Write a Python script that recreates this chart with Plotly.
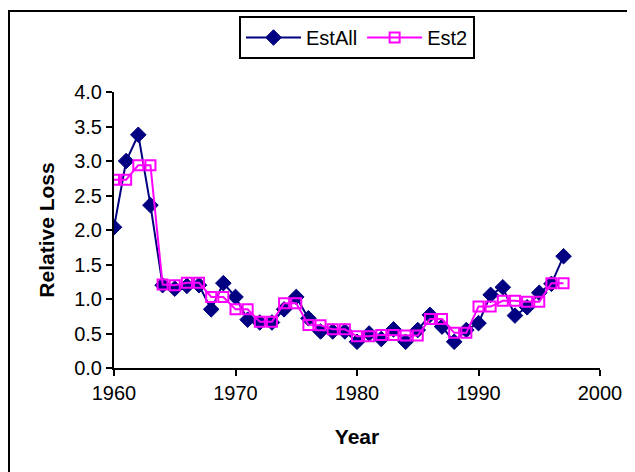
import plotly.graph_objects as go

years = list(range(1960, 1998))
est_all = [2.04, 3.0, 3.38, 2.36, 1.20, 1.15, 1.19, 1.20, 0.85, 1.23,
           1.03, 0.70, 0.66, 0.66, 0.85, 1.03, 0.72, 0.53, 0.53, 0.53,
           0.38, 0.50, 0.42, 0.56, 0.38, 0.55, 0.77, 0.60, 0.38, 0.55,
           0.65, 1.06, 1.17, 0.76, 0.88, 1.09, 1.22, 1.62]
est2 = [2.73, 2.73, 2.94, 2.94, 1.21, 1.20, 1.235, 1.235, 1.03, 1.03,
        0.85, 0.85, 0.67, 0.67, 0.94, 0.94, 0.625, 0.62, 0.56, 0.56,
        0.46, 0.46, 0.48, 0.48, 0.47, 0.47, 0.71, 0.71, 0.51, 0.51,
        0.89, 0.89, 0.975, 0.975, 0.96, 0.96, 1.23, 1.23]
x_ticks = [1960, 1970, 1980, 1990, 2000]
y_ticks = [0.0, 0.5, 1.0, 1.5, 2.0, 2.5, 3.0, 3.5, 4.0]

font_fam = "Arial, Liberation Sans, sans-serif"

L, T, PW, PH = 106, 84, 486, 276
W, H = 635, 472

fig = go.Figure()
fig.add_trace(go.Scatter(
    x=years, y=est_all, name="EstAll", mode="lines+markers",
    line=dict(color="#000080", width=2),
    marker=dict(symbol="diamond", size=12, color="#000080",
                line=dict(color="#000080", width=1)),
))
fig.add_trace(go.Scatter(
    x=years, y=est2, name="Est2", mode="lines+markers",
    line=dict(color="#FF00FF", width=2),
    marker=dict(symbol="square-open", size=10, color="#FF00FF",
                line=dict(color="#FF00FF", width=2)),
))

def px_x(p):
    return (p - L) / PW

def px_y(p):
    return 1 - (p - T) / PH

fig.update_layout(
    width=W, height=H,
    margin=dict(l=L, r=W - L - PW, t=T, b=H - T - PH, autoexpand=False),
    paper_bgcolor="white", plot_bgcolor="white",
    font=dict(family=font_fam, size=20, color="black"),
    showlegend=True,
    legend=dict(orientation="h", x=px_x(357 - 8), xanchor="center",
                y=px_y(16 - 8), yanchor="top",
                bordercolor="black", borderwidth=2, bgcolor="white",
                font=dict(size=20), tracegroupgap=0, itemwidth=55),
    xaxis=dict(range=[1960, 2000], tickvals=x_ticks, ticktext=[str(v) for v in x_ticks],
               showgrid=False, zeroline=False, showline=True, linecolor="black",
               linewidth=2, ticks="outside", ticklen=6, tickwidth=2, tickcolor="black",
               title=dict(text="<b>Year</b>", font=dict(size=21), standoff=26),
               tickfont=dict(size=20), automargin=False),
    yaxis=dict(range=[0, 4.0], tickvals=y_ticks, ticktext=[f"{v:.1f}" for v in y_ticks],
               showgrid=False, zeroline=False, showline=True, linecolor="black",
               linewidth=2, ticks="outside", ticklen=6, tickwidth=2, tickcolor="black",
               title=dict(text="<b>Relative Loss</b>", font=dict(size=21), standoff=14),
               tickfont=dict(size=20), automargin=False),
    shapes=[
        dict(type="line", xref="paper", yref="paper",
             x0=px_x(1), x1=px_x(1), y0=px_y(3), y1=px_y(H),
             line=dict(color="black", width=2)),
        dict(type="line", xref="paper", yref="paper",
             x0=px_x(0), x1=px_x(W), y0=px_y(3), y1=px_y(3),
             line=dict(color="black", width=2)),
    ],
)

fig.write_html("out.html")
